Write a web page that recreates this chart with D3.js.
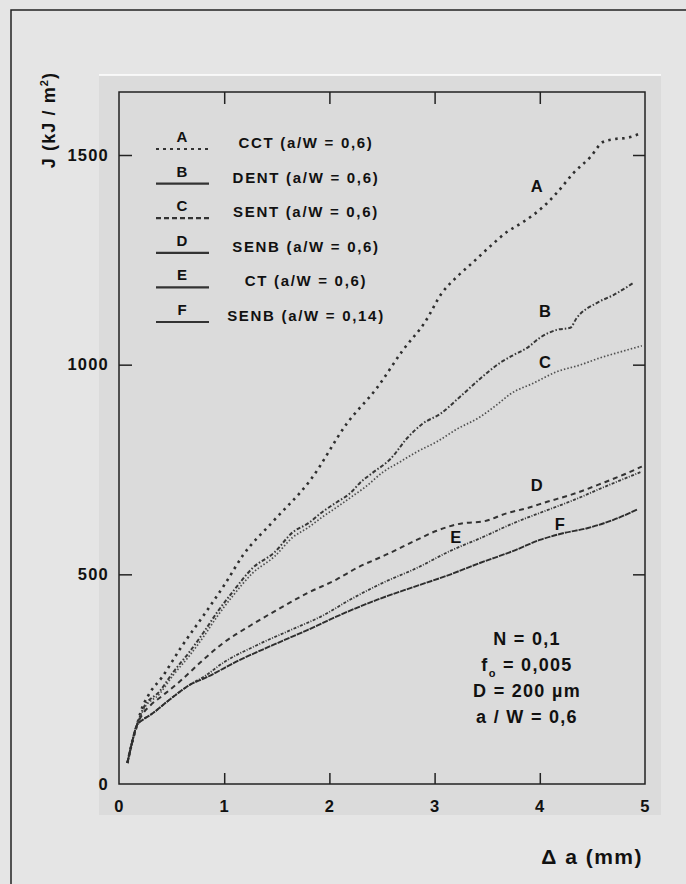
<!DOCTYPE html>
<html>
<head>
<meta charset="utf-8">
<script src="https://cdn.jsdelivr.net/npm/d3@7/dist/d3.min.js"></script>
<style>
  html, body { margin: 0; padding: 0; background: #e5e5e5; }
  svg text { font-family: "Liberation Sans", Arial, sans-serif; font-weight: bold; fill: #111; }
</style>
</head>
<body>
<div id="chart"></div>
<script>
// values: delta a (mm), J (kJ/m2)
var seriesKeys = ["A", "B", "C", "D", "E", "F"];
var legendLabels = ["CCT (a/W = 0,6)", "DENT (a/W = 0,6)", "SENT (a/W = 0,6)",
                    "SENB (a/W = 0,6)", "CT (a/W = 0,6)", "SENB (a/W = 0,14)"];

var curveA = [[0.08,50],[0.12,95],[0.17,140],[0.21,175],[0.28,212],[0.41,255],[0.58,322],[0.84,415],
  [1.01,478],[1.18,546],[1.46,625],[1.82,725],[2.17,861],[2.45,944],[2.7,1035],[2.91,1102],[3.07,1171],
  [3.21,1209],[3.36,1243],[3.51,1278],[3.69,1317],[3.84,1340],[4.03,1376],[4.17,1412],[4.32,1457],
  [4.48,1495],[4.6,1531],[4.71,1538],[4.83,1541],[4.97,1553]];
var curveB = [[0.08,50],[0.12,95],[0.17,140],[0.23,180],[0.39,222],[0.51,265],[0.67,315],[0.8,360],
  [0.94,412],[1.08,458],[1.27,515],[1.48,553],[1.65,600],[1.8,622],[1.94,650],[2.07,672],[2.2,694],
  [2.29,718],[2.41,742],[2.58,775],[2.74,825],[2.89,860],[3.05,882],[3.24,923],[3.43,966],[3.62,1004],
  [3.75,1023],[3.88,1040],[4.0,1064],[4.16,1083],[4.29,1088],[4.35,1111],[4.54,1147],[4.7,1166],[4.89,1195]];
var curveC = [[0.08,50],[0.12,95],[0.17,140],[0.23,176],[0.39,216],[0.51,258],[0.67,306],[0.8,350],
  [0.94,402],[1.08,448],[1.27,503],[1.48,543],[1.65,588],[1.8,612],[1.94,638],[2.07,660],[2.2,683],
  [2.35,710],[2.51,744],[2.67,768],[2.83,792],[3.02,816],[3.21,846],[3.43,875],[3.59,904],[3.72,930],
  [3.94,956],[4.16,983],[4.38,999],[4.57,1016],[4.76,1030],[4.97,1045]];
var curveD = [[0.08,50],[0.12,95],[0.17,140],[0.22,165],[0.3,188],[0.41,210],[0.58,245],[0.8,296],
  [0.99,336],[1.25,378],[1.5,415],[1.79,455],[2.07,488],[2.26,515],[2.55,548],[2.83,582],[3.02,604],
  [3.27,622],[3.46,626],[3.69,646],[3.88,658],[4.07,673],[4.3,690],[4.6,718],[4.8,738],[4.97,757]];
var curveE = [[0.08,50],[0.12,95],[0.17,140],[0.22,152],[0.3,165],[0.51,207],[0.67,236],[0.82,258],
  [0.99,289],[1.31,331],[1.63,367],[1.94,402],[2.2,440],[2.51,480],[2.83,515],[3.15,556],[3.46,589],
  [3.75,622],[4.07,653],[4.32,677],[4.6,707],[4.97,745]];
var curveF = [[0.08,50],[0.12,95],[0.17,140],[0.22,152],[0.3,165],[0.51,207],[0.67,236],[0.82,253],
  [1.15,296],[1.46,331],[1.79,367],[2.1,403],[2.45,439],[2.79,469],[3.12,497],[3.43,527],[3.75,556],
  [4.0,582],[4.22,598],[4.45,610],[4.7,630],[4.93,655]];
var curves = [curveA, curveB, curveC, curveD, curveE, curveF];

// where the letters sit on the curves (delta a, J)
var curveLabelPos = [[3.97,1426],[4.05,1128],[4.05,1006],[3.97,712],[3.2,589],[4.19,620]];

var xTicks = [0, 1, 2, 3, 4, 5];
var yTicks = [0, 500, 1000, 1500];
var noteLines = ["N = 0,1", "f|o| = 0,005", "D = 200 \u00b5m", "a / W = 0,6"];

function init() {
  var w = 686, h = 884;

  var svg = d3.select("#chart").append("svg")
    .attr("width", w).attr("height", h);

  // outer frame + grey panel
  svg.append("rect").attr("x", 11).attr("y", 10).attr("width", 700).attr("height", 900)
    .attr("fill", "#e5e5e5").attr("stroke", "#222").attr("stroke-width", 1.5);
  svg.append("rect").attr("x", 99).attr("y", 75).attr("width", 562).attr("height", 740)
    .attr("fill", "#dbdbdb");
  svg.append("line").attr("x1", 99).attr("x2", 661).attr("y1", 75).attr("y2", 75)
    .attr("stroke", "#fff").attr("stroke-width", 1.5);

  var left = 119, right = 645, top = 92, bottom = 784;

  var xScale = d3.scaleLinear().domain([0, 5]).range([left, right]);
  var yScale = d3.scaleLinear().domain([0, 1500]).range([bottom, 155]);

  // frame of plot
  svg.append("rect").attr("x", left).attr("y", top)
    .attr("width", right - left).attr("height", bottom - top)
    .attr("fill", "none").attr("stroke", "#222").attr("stroke-width", 1.5);

  var gx = svg.append("g").attr("transform", "translate(0," + bottom + ")")
    .call(d3.axisBottom(xScale).tickValues(xTicks).tickSize(-11).tickPadding(16)
      .tickFormat(d3.format("d")));
  var gxTop = svg.append("g").attr("transform", "translate(0," + top + ")")
    .call(d3.axisTop(xScale).tickValues(xTicks.slice(1, 5)).tickSize(-12).tickFormat(""));
  var gy = svg.append("g").attr("transform", "translate(" + left + ",0)")
    .call(d3.axisLeft(yScale).tickValues(yTicks).tickSize(-13).tickPadding(10)
      .tickFormat(d3.format("d")));
  var gyR = svg.append("g").attr("transform", "translate(" + right + ",0)")
    .call(d3.axisRight(yScale).tickValues(yTicks.slice(1)).tickSize(-12).tickFormat(""));

  [gx, gxTop, gy, gyR].forEach(function(g) {
    g.select(".domain").remove();
    g.selectAll(".tick line").attr("stroke", "#222").attr("stroke-width", 1.5);
    g.selectAll(".tick text").attr("font-size", 16.5).attr("letter-spacing", 1.2)
      .attr("font-family", "Liberation Sans, Arial, sans-serif").attr("fill", "#111");
  });
  gx.selectAll(".tick line").filter(function(d) { return d === 0 || d === 5; }).remove();
  gy.selectAll(".tick line").filter(function(d) { return d === 0; }).remove();

  // axis titles
  var yt = svg.append("text")
    .attr("transform", "translate(55,120) rotate(-90)")
    .attr("text-anchor", "middle").attr("font-size", 18).attr("letter-spacing", 1.1)
    .text("J (kJ / m");
  yt.append("tspan").attr("font-size", 11).attr("dy", -7).text("2");
  yt.append("tspan").attr("dy", 7).text(")");

  svg.append("text").attr("x", 643).attr("y", 864).attr("text-anchor", "end")
    .attr("font-size", 21).attr("letter-spacing", 1.5)
    .text("\u0394 a (mm)");

  // curve styles
  var dashes = ["2.5,4.5", "4,2,1.5,2", "1.5,2", "5,4", "3,1.5,1,1.5", "6,1"];
  var widths = [2.6, 2, 1.7, 2, 1.8, 1.9];
  var colors = ["#2e2e2e", "#383838", "#505050", "#333", "#3a3a3a", "#2e2e2e"];

  var line = d3.line()
    .x(function(d) { return xScale(d[0]); })
    .y(function(d) { return yScale(d[1]); })
    .curve(d3.curveMonotoneX);

  svg.selectAll("path.curve")
    .data(curves)
    .enter()
    .append("path")
    .attr("class", "curve")
    .attr("d", line)
    .attr("fill", "none")
    .attr("stroke", function(d, i) { return colors[i]; })
    .attr("stroke-width", function(d, i) { return widths[i]; })
    .attr("stroke-dasharray", function(d, i) { return dashes[i]; });

  svg.selectAll("text.clabel")
    .data(curveLabelPos)
    .enter()
    .append("text")
    .attr("class", "clabel")
    .attr("x", function(d) { return xScale(d[0]); })
    .attr("y", function(d) { return yScale(d[1]) + 6; })
    .attr("text-anchor", "middle")
    .attr("font-size", 16.5)
    .text(function(d, i) { return seriesKeys[i]; });

  // legend
  var legendDash = ["3,4", null, "5,3", null, null, null];
  var leg = svg.selectAll("g.leg")
    .data(seriesKeys)
    .enter()
    .append("g")
    .attr("class", "leg")
    .attr("transform", function(d, i) { return "translate(0," + (149 + i * 34.6) + ")"; });

  leg.append("line")
    .attr("x1", 156).attr("x2", 209).attr("y1", 0).attr("y2", 0)
    .attr("stroke", "#333").attr("stroke-width", 2.2)
    .attr("stroke-dasharray", function(d, i) { return legendDash[i]; });
  leg.append("text")
    .attr("x", 182).attr("y", -7).attr("text-anchor", "middle")
    .attr("font-size", 15)
    .text(function(d) { return d; });
  leg.append("text")
    .attr("x", 306).attr("y", -1).attr("text-anchor", "middle")
    .attr("font-size", 15).attr("letter-spacing", 1.7)
    .text(function(d, i) { return legendLabels[i]; });

  // parameter note
  svg.selectAll("text.note")
    .data(noteLines)
    .enter()
    .append("text")
    .attr("class", "note")
    .attr("x", 527)
    .attr("y", function(d, i) { return 645 + i * 26; })
    .attr("text-anchor", "middle")
    .attr("font-size", 18)
    .attr("letter-spacing", 1.3)
    .each(function(d) {
      var t = d3.select(this);
      var parts = d.split("|");
      if (parts.length === 1) { t.text(d); return; }
      t.append("tspan").text(parts[0]);
      t.append("tspan").attr("font-size", 11).attr("dy", 6).text(parts[1]);
      t.append("tspan").attr("dy", -6).text(parts[2]);
    });
}

window.onload = init;
</script>
</body>
</html>
